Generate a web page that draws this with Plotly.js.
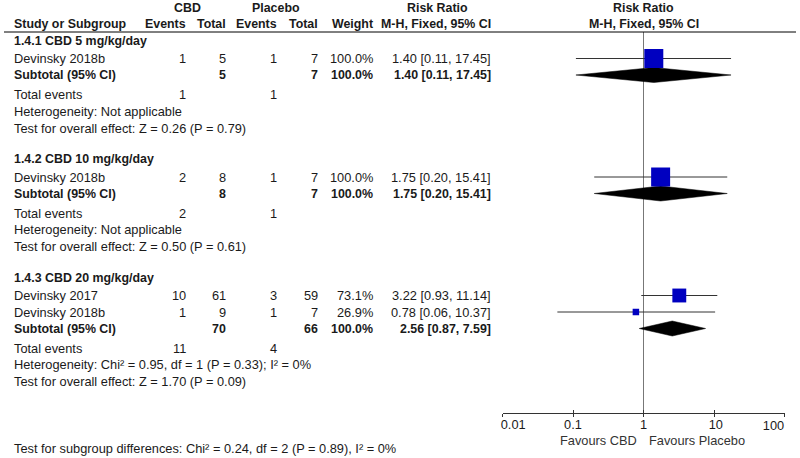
<!DOCTYPE html>
<html>
<head>
<meta charset="utf-8">
<script src="https://cdn.plot.ly/plotly-3.0.1.min.js"></script>
<style>html,body{margin:0;padding:0;background:#fff;}#chart{width:800px;height:458px;}</style>
</head>
<body>
<div id="chart"></div>
<script>
// ---------- data ----------
const subgroupNames = ["1.4.1 CBD 5 mg/kg/day", "1.4.2 CBD 10 mg/kg/day", "1.4.3 CBD 20 mg/kg/day"];
const studyNames = ["Devinsky 2018b", "Devinsky 2018b", "Devinsky 2017", "Devinsky 2018b"];
const studyGroup = [0, 1, 2, 2];
const cbdEvents = [1, 2, 10, 1];
const cbdTotal = [5, 8, 61, 9];
const placeboEvents = [1, 1, 3, 1];
const placeboTotal = [7, 7, 59, 7];
const weights = [100.0, 100.0, 73.1, 26.9];
const rr = [1.40, 1.75, 3.22, 0.78];
const rrLow = [0.11, 0.20, 0.93, 0.06];
const rrHigh = [17.45, 15.41, 11.14, 10.37];
const subCbdTotal = [5, 8, 70];
const subPlaceboTotal = [7, 7, 66];
const subWeight = [100.0, 100.0, 100.0];
const subRR = [1.40, 1.75, 2.56];
const subLow = [0.11, 0.20, 0.87];
const subHigh = [17.45, 15.41, 7.59];
const totalEventsCbd = [1, 2, 11];
const totalEventsPlacebo = [1, 1, 4];
const heterogeneity = [
  "Heterogeneity: Not applicable",
  "Heterogeneity: Not applicable",
  "Heterogeneity: Chi\u00b2 = 0.95, df = 1 (P = 0.33); I\u00b2 = 0%"
];
const overallEffect = [
  "Test for overall effect: Z = 0.26 (P = 0.79)",
  "Test for overall effect: Z = 0.50 (P = 0.61)",
  "Test for overall effect: Z = 1.70 (P = 0.09)"
];
const subgroupTest = "Test for subgroup differences: Chi\u00b2 = 0.24, df = 2 (P = 0.89), I\u00b2 = 0%";
const tickValues = [0.01, 0.1, 1, 10, 100];
const tickLabels = ["0.01", "0.1", "1", "10", "100"];
const favoursLeft = "Favours CBD";
const favoursRight = "Favours Placebo";

// ---------- layout constants ----------
const W = 800, H = 458;
const FONT = "Liberation Sans, Arial, sans-serif";
const FS = 12.8;
const FSB = 12.4;
const TXT = "#1a1a1a";
const colX = {name: 14, ev1: 186, tot1: 226, ev2: 277, tot2: 318, wt: 373, rr: 491};
const axisY = 412.7;
const headLineY = 32;

const ann = [];
function t(text, px, y, anchor, bold, color) {
  ann.push({
    text: bold ? "<b>" + text + "</b>" : text,
    x: px / W, xref: "paper", y: y, yref: "y",
    xanchor: anchor, yanchor: "middle", showarrow: false,
    font: {family: FONT, size: bold ? FSB : FS, color: color || TXT},
    borderpad: 0, borderwidth: 0
  });
}
const fmtRR = (m, l, h) => m.toFixed(2) + " [" + l.toFixed(2) + ", " + h.toFixed(2) + "]";

// header
t("CBD", 187, 7.5, "center", true);
t("Placebo", 276, 7.5, "center", true);
t("Risk Ratio", 437, 7.5, "center", true);
t("Risk Ratio", 643.5, 7.5, "center", true);
t("Study or Subgroup", colX.name, 24, "left", true);
t("Events", colX.ev1, 24, "right", true);
t("Total", colX.tot1, 24, "right", true);
t("Events", colX.ev2, 24, "right", true);
t("Total", colX.tot2, 24, "right", true);
t("Weight", colX.wt, 24, "right", true);
t("M-H, Fixed, 95% CI", colX.rr, 24, "right", true);
t("M-H, Fixed, 95% CI", 643.5, 24, "center", true);

// rows
const studyY = [], subY = [];
let y = 40.5;
let lastY = y;
for (let g = 0; g < subgroupNames.length; g++) {
  t(subgroupNames[g], colX.name, y, "left", true);
  y += 18;
  for (let i = 0; i < studyNames.length; i++) {
    if (studyGroup[i] !== g) continue;
    studyY[i] = y;
    t(studyNames[i], colX.name, y, "left");
    t(String(cbdEvents[i]), colX.ev1, y, "right");
    t(String(cbdTotal[i]), colX.tot1, y, "right");
    t(String(placeboEvents[i]), colX.ev2, y, "right");
    t(String(placeboTotal[i]), colX.tot2, y, "right");
    t(weights[i].toFixed(1) + "%", colX.wt, y, "right");
    t(fmtRR(rr[i], rrLow[i], rrHigh[i]), colX.rr, y, "right");
    y += 16.5;
  }
  subY[g] = y;
  t("Subtotal (95% CI)", colX.name, y, "left", true);
  t(String(subCbdTotal[g]), colX.tot1, y, "right", true);
  t(String(subPlaceboTotal[g]), colX.tot2, y, "right", true);
  t(subWeight[g].toFixed(1) + "%", colX.wt, y, "right", true);
  t(fmtRR(subRR[g], subLow[g], subHigh[g]), colX.rr, y, "right", true);
  y += 19.5;
  t("Total events", colX.name, y, "left");
  t(String(totalEventsCbd[g]), colX.ev1, y, "right");
  t(String(totalEventsPlacebo[g]), colX.ev2, y, "right");
  y += 16.5;
  t(heterogeneity[g], colX.name, y, "left");
  y += 17;
  t(overallEffect[g], colX.name, y, "left");
  lastY = y;
  y += 31;
}
t(subgroupTest, colX.name, lastY + 66.5, "left");
t(favoursLeft, 637, 440, "right", false, "#333");
t(favoursRight, 649, 440, "left", false, "#333");

// ---------- traces ----------
const ciX = [], ciY = [];
for (let i = 0; i < rr.length; i++) {
  ciX.push(rrLow[i], rrHigh[i], null);
  ciY.push(studyY[i], studyY[i], null);
}
const ciTrace = {
  type: "scatter", mode: "lines", x: ciX, y: ciY, xaxis: "x", yaxis: "y",
  line: {color: "#333", width: 1}, hoverinfo: "skip", showlegend: false
};
const boxTrace = {
  type: "scatter", mode: "markers", x: rr, y: studyY, xaxis: "x3", yaxis: "y",
  marker: {symbol: "square", color: "#0000C0", opacity: 1,
           size: weights.map(w => Math.max(6.5, 19 * w / 100)), line: {width: 0}},
  hoverinfo: "skip", showlegend: false
};
const diamonds = [];
const dh = 7.5;
for (let g = 0; g < subRR.length; g++) {
  diamonds.push({
    type: "scatter", mode: "lines", xaxis: "x2", yaxis: "y",
    x: [subLow[g], subRR[g], subHigh[g], subRR[g], subLow[g]],
    y: [subY[g], subY[g] - dh, subY[g], subY[g] + dh, subY[g]],
    fill: "toself", fillcolor: "#000", line: {width: 0.5, color: "#000"},
    hoverinfo: "skip", showlegend: false
  });
}

// edge tick labels sit inside the axis ends, as in the reference
const NB = "\u00a0";
const last = tickLabels.length - 1;
const mainTickText = tickLabels.map((s, i) => {
  if (i === 0) return NB.repeat(6) + s;
  if (i === last) return "";
  if (i === 3) return NB + s;
  return s;
});

const dom = [502.5 / W, 784.5 / W];
const axPos = 1 - axisY / H;
const tickFont = {family: FONT, size: FS, color: TXT};
const layout = {
  width: W, height: H,
  margin: {l: 0, r: 0, t: 0, b: 0, pad: 0},
  paper_bgcolor: "#fff", plot_bgcolor: "rgba(0,0,0,0)",
  showlegend: false,
  xaxis: {
    type: "log", domain: dom, range: [-2, 2], anchor: "free", position: axPos,
    showline: true, linecolor: "#333", linewidth: 1,
    ticks: "outside", ticklen: 3, tickwidth: 1, tickcolor: "#333",
    ticklabelstandoff: -3, ticklabeloverflow: "allow",
    tickvals: tickValues, ticktext: mainTickText, tickfont: tickFont,
    showgrid: false, zeroline: false, fixedrange: true
  },
  xaxis2: {
    type: "log", domain: dom, range: [-2, 2], anchor: "free", position: axPos,
    overlaying: "x", matches: "x",
    showline: false, ticks: "inside", ticklen: 3, tickwidth: 1, tickcolor: "#333",
    tickvals: tickValues, showticklabels: false,
    showgrid: false, zeroline: false, fixedrange: true
  },
  xaxis3: {
    type: "log", domain: dom, range: [-2, 2], anchor: "free", position: axPos,
    overlaying: "x", matches: "x",
    showline: false, ticks: "", ticklabelstandoff: 3, ticklabeloverflow: "allow",
    ticklabelshift: -11,
    tickvals: [tickValues[last]], ticktext: [tickLabels[last]], tickfont: tickFont,
    showgrid: false, zeroline: false, fixedrange: true
  },
  yaxis: {
    domain: [0, 1], range: [H, 0], visible: false, showgrid: false, zeroline: false, fixedrange: true
  },
  shapes: [
    {type: "line", xref: "paper", x0: 4 / W, x1: 796 / W, yref: "y", y0: headLineY, y1: headLineY,
     line: {color: "#000", width: 1}},
    {type: "line", xref: "x", x0: 1, x1: 1, yref: "y", y0: headLineY, y1: axisY,
     line: {color: "#777", width: 1}, layer: "below"}
  ],
  annotations: ann
};

Plotly.newPlot("chart", [ciTrace].concat(diamonds, [boxTrace]), layout, {staticPlot: true, displayModeBar: false});
</script>
</body>
</html>
